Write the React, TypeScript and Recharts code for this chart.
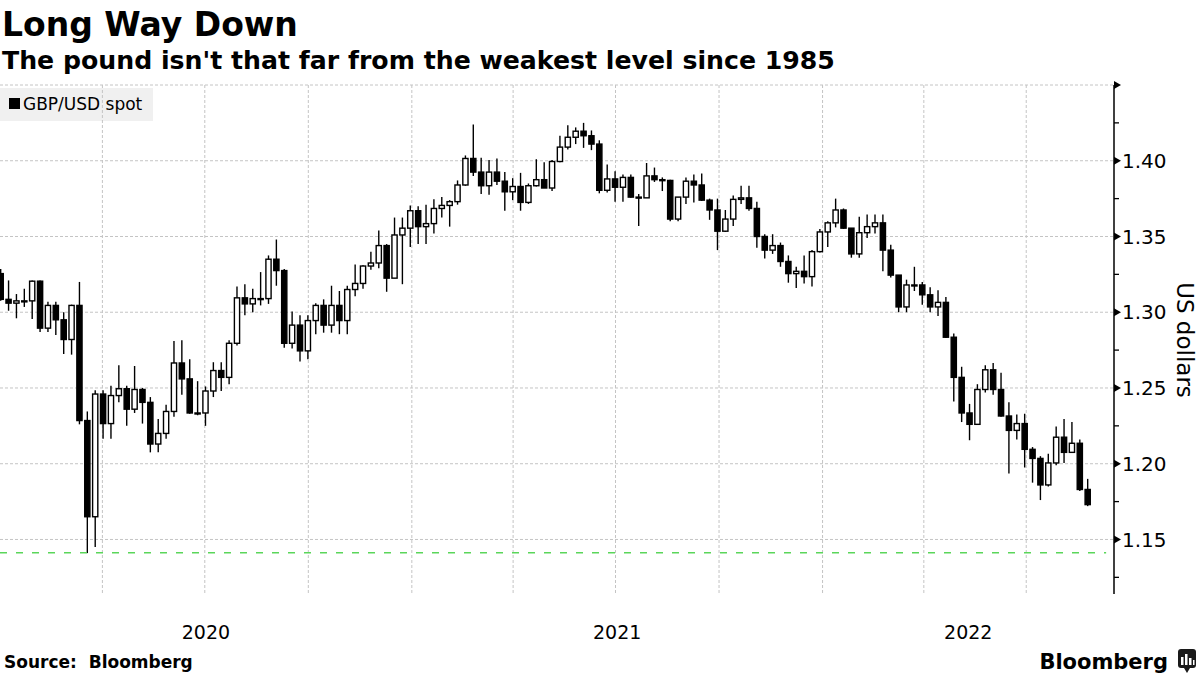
import { ComposedChart, Bar, XAxis, YAxis, CartesianGrid, ReferenceLine } from 'recharts'

// GBP/USD spot, weekly candles (weeks ending Fri 3 Jan 2020 .. Fri 26 Aug 2022)
const FIRST_OPEN = 1.3255

const weekClose = [
  // 2020
  1.3085, 1.306, 1.3075, 1.3075, 1.3205, 1.2895, 1.3045, 1.295, 1.282, 1.3045,
  1.2285, 1.165, 1.246, 1.2265, 1.245, 1.2495, 1.236, 1.249, 1.2405, 1.213,
  1.22, 1.2345, 1.2665, 1.256, 1.2335, 1.2335, 1.248, 1.2615, 1.257, 1.2795,
  1.3095, 1.3055, 1.309, 1.309, 1.335, 1.3275, 1.2795, 1.2915, 1.2745, 1.2945,
  1.3045, 1.2915, 1.3045, 1.2945, 1.315, 1.319, 1.3305, 1.3325, 1.344, 1.3225,
  1.351, 1.3555, 1.367,
  // 2021
  1.3565, 1.3585, 1.3685, 1.3705, 1.373, 1.384, 1.4015, 1.3925, 1.3835, 1.3925,
  1.3865, 1.3795, 1.383, 1.3725, 1.3835, 1.3875, 1.382, 1.3995, 1.409, 1.4155,
  1.4195, 1.4165, 1.411, 1.3805, 1.388, 1.3825, 1.389, 1.376, 1.3755, 1.39,
  1.3875, 1.387, 1.3615, 1.376, 1.3865, 1.384, 1.374, 1.3675, 1.3535, 1.3615,
  1.3745, 1.3755, 1.3685, 1.35, 1.341, 1.344, 1.3335, 1.3255, 1.327, 1.3235,
  1.34, 1.353,
  // 2022
  1.359, 1.3675, 1.3555, 1.3385, 1.3525, 1.3565, 1.359, 1.341, 1.3245, 1.3035,
  1.318, 1.318, 1.3115, 1.3035, 1.3065, 1.2835, 1.257, 1.2335, 1.226, 1.249,
  1.262, 1.249, 1.2315, 1.222, 1.2265, 1.2095, 1.2035, 1.186, 1.2005, 1.2175,
  1.2075, 1.2135, 1.183, 1.173,
]

const weekHigh = [
  1.3285, 1.321, 1.312, 1.3155, 1.321, 1.321, 1.307, 1.307, 1.3, 1.305,
  1.32, 1.2345, 1.2485, 1.2485, 1.2515, 1.265, 1.2515, 1.2645, 1.25, 1.244,
  1.2295, 1.239, 1.281, 1.2815, 1.269, 1.2545, 1.251, 1.267, 1.267, 1.2815,
  1.317, 1.3185, 1.3155, 1.3265, 1.3375, 1.348, 1.3285, 1.3005, 1.298, 1.298,
  1.306, 1.3085, 1.3175, 1.314, 1.3175, 1.3315, 1.331, 1.34, 1.354, 1.345,
  1.3625, 1.3625, 1.3705,
  1.37, 1.371, 1.3745, 1.376, 1.374, 1.387, 1.4035, 1.424, 1.402, 1.4005,
  1.4015, 1.3925, 1.3885, 1.392, 1.385, 1.401, 1.399, 1.4005, 1.4165, 1.4235,
  1.422, 1.425, 1.42, 1.4135, 1.3975, 1.393, 1.391, 1.391, 1.378, 1.3985,
  1.3955, 1.389, 1.3875, 1.376, 1.389, 1.391, 1.3915, 1.375, 1.375, 1.3675,
  1.377, 1.3835, 1.3835, 1.373, 1.3515, 1.3515, 1.346, 1.3375, 1.33, 1.3375,
  1.341, 1.355,
  1.36, 1.375, 1.3685, 1.3555, 1.363, 1.3645, 1.3645, 1.3645, 1.3445, 1.3245,
  1.3215, 1.33, 1.32, 1.3165, 1.3145, 1.31, 1.286, 1.264, 1.2395, 1.2525,
  1.265, 1.2665, 1.26, 1.2405, 1.2325, 1.233, 1.211, 1.205, 1.2065, 1.2245,
  1.2295, 1.2275, 1.216, 1.19,
]

const weekLow = [
  1.3075, 1.301, 1.296, 1.3035, 1.2955, 1.287, 1.287, 1.285, 1.2725, 1.272,
  1.226, 1.141, 1.145, 1.2165, 1.2165, 1.2405, 1.225, 1.2335, 1.2265, 1.2075,
  1.2075, 1.2165, 1.231, 1.2455, 1.233, 1.232, 1.225, 1.244, 1.248, 1.2525,
  1.278, 1.298, 1.3, 1.3045, 1.3055, 1.3175, 1.2765, 1.276, 1.2675, 1.269,
  1.2855, 1.2865, 1.2865, 1.2855, 1.2855, 1.3105, 1.3155, 1.328, 1.329, 1.3135,
  1.3225, 1.3185, 1.343,
  1.345, 1.345, 1.352, 1.3625, 1.3565, 1.371, 1.3835, 1.39, 1.378, 1.3775,
  1.384, 1.367, 1.374, 1.367, 1.3715, 1.383, 1.382, 1.38, 1.399, 1.4075,
  1.411, 1.4085, 1.407, 1.3785, 1.379, 1.373, 1.373, 1.3755, 1.357, 1.3755,
  1.386, 1.38, 1.36, 1.36, 1.3715, 1.3725, 1.3735, 1.361, 1.341, 1.353,
  1.357, 1.3715, 1.367, 1.3425, 1.3355, 1.3385, 1.33, 1.3195, 1.316, 1.319,
  1.317, 1.3395,
  1.343, 1.356, 1.355, 1.336, 1.336, 1.349, 1.352, 1.327, 1.323, 1.3,
  1.3, 1.314, 1.305, 1.3, 1.2975, 1.283, 1.241, 1.2275, 1.2155, 1.226,
  1.247, 1.2455, 1.231, 1.1935, 1.216, 1.1975, 1.1875, 1.176, 1.185, 1.199,
  1.2005, 1.207, 1.182, 1.172,
]

// x axis in days since 1 Jan 2020
const X_END = 990
const yearLabels = ['2020', '2021', '2022']
const yearMid = [183, 548.5, 860.5]
const quarterStarts = [91, 182, 274, 366, 456, 547, 639, 731, 821, 912]

const majorTicks = [1.15, 1.2, 1.25, 1.3, 1.35, 1.4, 1.45]
const minorTicks = [1.125, 1.175, 1.225, 1.275, 1.325, 1.375, 1.425]
const labeledTicks = [1.15, 1.2, 1.25, 1.3, 1.35, 1.4]
const RECORD_LOW = 1.1412

const candles = weekClose.map((close, i) => ({
  t: 7 * i + 1, // mid-week
  open: i === 0 ? FIRST_OPEN : weekClose[i - 1],
  high: weekHigh[i],
  low: weekLow[i],
  close,
}))

const FONT = '"DejaVu Sans", Verdana, sans-serif'
const BODY_W = 5.2

const Candle = (props: any) => {
  const { x, y, width, height, payload } = props
  if (x == null || y == null) return null
  const { open, close, high, low } = payload
  const top = Math.min(y, y + height)
  const h = Math.abs(height)
  const k = h / (high - low || 1)
  const yOf = (v: number) => top + (high - v) * k
  const cx = x + width / 2
  const bodyTop = yOf(Math.max(open, close))
  const bodyH = Math.max(1, yOf(Math.min(open, close)) - bodyTop)
  return (
    <g>
      <line x1={cx} x2={cx} y1={top} y2={top + h} stroke="#000" strokeWidth={1.4} />
      <rect x={cx - BODY_W / 2} y={bodyTop} width={BODY_W} height={bodyH}
        fill={close >= open ? '#fff' : '#000'} stroke="#000" strokeWidth={1.4} />
    </g>
  )
}

const key = (v: number) => Math.round(v * 1000)

const YTick = (props: any) => {
  const { x, y, payload } = props
  const v = payload.value
  const isMajor = majorTicks.some(m => key(m) === key(v))
  const hasLabel = labeledTicks.some(m => key(m) === key(v))
  if (!isMajor) {
    return <line x1={x} x2={x + 5} y1={y} y2={y} stroke="#000" strokeWidth={1.3} />
  }
  return (
    <g>
      <path d={`M${x},${y - 4}L${x + 7},${y}L${x},${y + 4}Z`} fill="#000" />
      {hasLabel && (
        <text x={x + 8} y={y} dy="0.36em" fontSize={20} fontFamily={FONT} fill="#000">
          {v.toFixed(2)}
        </text>
      )}
    </g>
  )
}

const XTick = (props: any) => {
  const { x, y, payload } = props
  const idx = yearMid.indexOf(payload.value)
  return (
    <text x={x} y={y} dy="0.71em" textAnchor="middle" fontSize={19} fontFamily={FONT} fill="#000">
      {yearLabels[idx]}
    </text>
  )
}

export default function App() {
  return (
    <div style={{ position: 'relative', width: 1200, height: 675, background: '#fff', overflow: 'hidden' }}>
      <style>{'body{margin:0}'}</style>

      <svg width={1200} height={675} style={{ position: 'absolute', left: 0, top: 0 }}>
        <text x={2} y={36} fontSize={33} fontWeight="bold" fontFamily={FONT} fill="#000">Long Way Down</text>
        <text x={2} y={69} fontSize={25.2} fontWeight="bold" fontFamily={FONT} fill="#000">
          The pound isn't that far from the weakest level since 1985
        </text>
        <rect x={0} y={88} width={153} height={33} fill="#f0f0f0" />
        <rect x={9} y={98} width={11} height={11} fill="#000" />
        <text x={23} y={110} fontSize={17} fontFamily={FONT} fill="#000">GBP/USD spot</text>
        <text x={1185} y={340} fontSize={23} fontFamily={FONT} fill="#000" textAnchor="middle"
          dominantBaseline="central" transform="rotate(90 1185 340)">US dollars</text>
        <text x={4} y={668} fontSize={17} fontWeight="bold" fontFamily={FONT} fill="#000">
          Source:{'\u00a0'} Bloomberg
        </text>
        <text x={1168} y={669} fontSize={21} fontWeight="bold" fontFamily={FONT} fill="#000" textAnchor="end">Bloomberg</text>
        <rect x={1178} y={649} width={18} height={19} rx={3} fill="#1a1a1a" />
        <path d="M1184,668 L1187,673 L1190,668 Z" fill="#1a1a1a" />
        <rect x={1181} y={657} width={2.5} height={8} fill="#fff" />
        <rect x={1185} y={654} width={2.5} height={11} fill="#fff" />
        <rect x={1189} y={658} width={2.5} height={7} fill="#fff" />
        <rect x={1193} y={660} width={1.5} height={5} fill="#fff" />
      </svg>

      <div style={{ position: 'absolute', left: 0, top: 0 }}>
        <ComposedChart width={1200} height={675} data={candles}
          margin={{ top: 85, right: 0, bottom: 0, left: 0 }}>
          <CartesianGrid horizontalValues={majorTicks} verticalValues={quarterStarts}
            stroke="#c4c4c4" strokeDasharray="3 2" />
          <XAxis dataKey="t" type="number" domain={[0, X_END]} ticks={yearMid} interval={0}
            axisLine={false} tickLine={false} tickSize={6} tickMargin={26} height={81}
            tick={<XTick />} allowDataOverflow />
          <YAxis orientation="right" type="number" domain={[1.114, 1.45]} allowDataOverflow
            ticks={[...minorTicks, ...majorTicks].sort((a, b) => a - b)} interval={0}
            width={86} tickLine={false} tickSize={0} tickMargin={0}
            axisLine={{ stroke: '#000', strokeWidth: 1.5 }} tick={<YTick />} />
          <ReferenceLine segment={[{ x: 0, y: RECORD_LOW }, { x: 983, y: RECORD_LOW }]}
            stroke="#5ad65a" strokeWidth={1.5} strokeDasharray="7 9" />
          <Bar dataKey={(d: any) => [d.low, d.high]} barSize={5} shape={<Candle />}
            isAnimationActive={false} />
        </ComposedChart>
      </div>
    </div>
  )
}
